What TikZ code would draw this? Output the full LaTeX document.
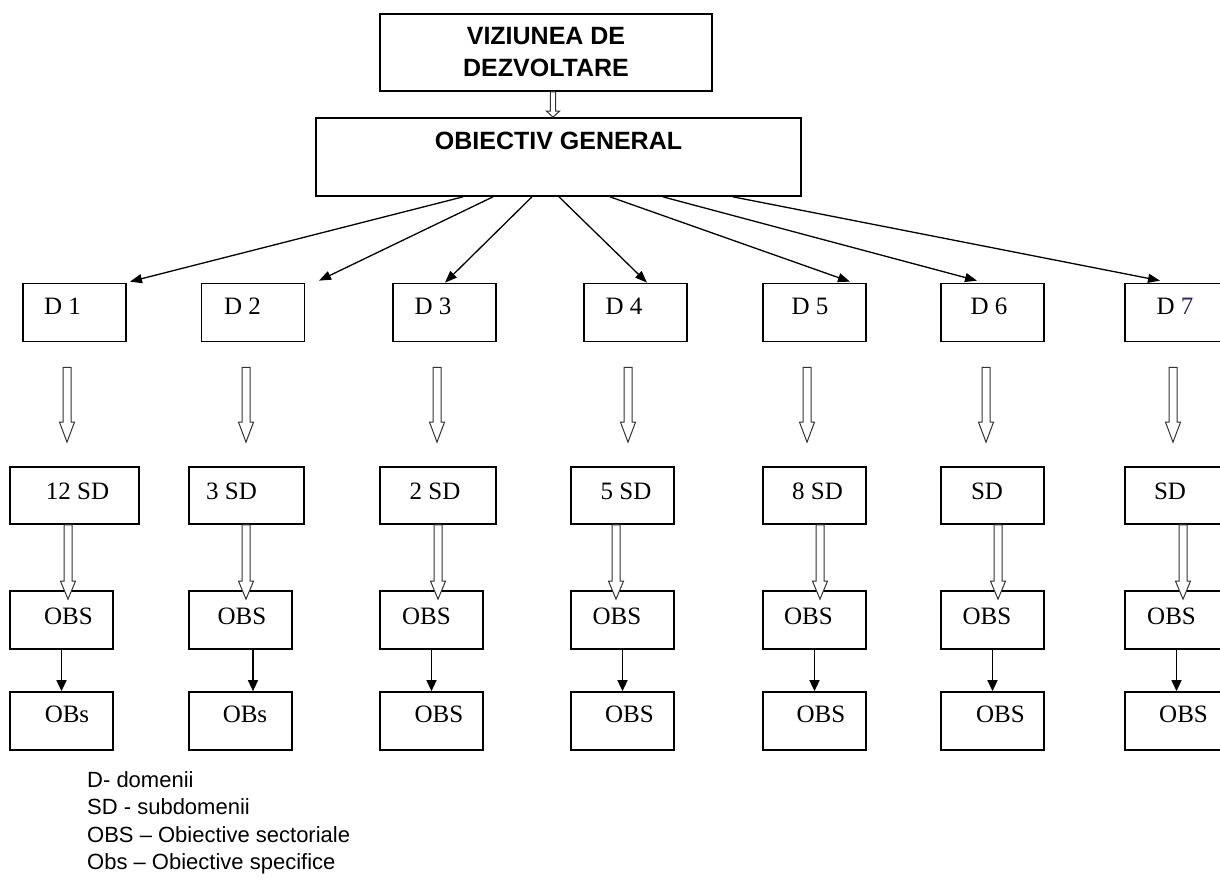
\documentclass[tikz,border=0pt]{standalone}
\usepackage{fontspec}
\setmainfont{Liberation Serif}
\newfontfamily\arialfont{Liberation Sans}
\usetikzlibrary{arrows.meta,calc}

\definecolor{navyseven}{RGB}{45,35,95}

% open (white) block arrow going straight down
\newcommand{\harrow}[5]{%
  \draw[hollow] let \p1=(#1), \p2=(#2) in
    (\x1-#3pt,\y1) -- (\x1-#3pt,\y2+#5pt) -- (\x1-#4pt,\y2+#5pt) -- (\x1,\y2)
    -- (\x1+#4pt,\y2+#5pt) -- (\x1+#3pt,\y2+#5pt) -- (\x1+#3pt,\y1) -- cycle;}

\begin{document}
\begin{tikzpicture}[x=1pt,y=-1pt,
  box/.style={draw, line width=1.7pt, inner sep=0pt, minimum width=103pt,
    minimum height=58pt, font=\fontsize{25}{30}\selectfont, text height=17pt},
  tx/.style={execute at begin node={\hspace*{#1pt}},
    execute at end node={\hspace*{-#1pt}}},
  hollow/.style={draw=black!80, line width=1pt, fill=white},
  darrow/.style={line width=1.3pt, -{Triangle[length=12pt,width=9pt]}},
  sarrow/.style={line width=1.3pt, -{Triangle[length=11pt,width=10pt]}}]
\useasboundingbox (0,0) rectangle (1220,882);
\clip (0,0) rectangle (1220,882);

\node[draw, line width=1.7pt, minimum width=332pt, minimum height=77pt, align=center,
  font=\arialfont\bfseries\fontsize{25}{32}\selectfont] (vis) at (546,52.5)
  {VIZIUNEA DE\\DEZVOLTARE};
\node[draw, line width=1.7pt, minimum width=485pt, minimum height=78pt, inner sep=0pt,
  text height=18pt, text depth=32pt,
  font=\arialfont\bfseries\fontsize{25}{30}\selectfont] (og) at (558.5,157)
  {OBIECTIV GENERAL};

% domenii
\node[box, text depth=12.4pt, tx=-12] (d1) at (74.5,312.5) {D 1};
\node[box, text depth=12.4pt, tx=-10.5] (d2) at (253,312.5) {D 2};
\node[box, text depth=12.4pt, tx=-11.5] (d3) at (444.5,312.5) {D 3};
\node[box, text depth=12.4pt, tx=-11.5] (d4) at (635.5,312.5) {D 4};
\node[box, text depth=12.4pt, tx=-4.5] (d5) at (814.5,312.5) {D 5};
\node[box, text depth=12.4pt, tx=-3.5] (d6) at (992.5,312.5) {D 6};
\node[box, text depth=12.4pt, tx=-1.5] (d7) at (1176.5,312.5) {D \textcolor{navyseven}{7}};

% subdomenii
\node[box, minimum width=129pt, minimum height=57pt, text depth=8.4pt, tx=3] (sd1) at (74.5,495.5) {12 SD};
\node[box, minimum width=115pt, minimum height=57pt, text depth=8.4pt, tx=-15] (sd2) at (246.5,495.5) {3 SD};
\node[box, minimum width=116pt, minimum height=57pt, text depth=8.4pt, tx=-3] (sd3) at (438,495.5) {2 SD};
\node[box, minimum height=57pt, text depth=8.4pt, tx=3.5] (sd4) at (622.5,495.5) {5 SD};
\node[box, minimum height=57pt, text depth=8.4pt, tx=3] (sd5) at (814.5,495.5) {8 SD};
\node[box, minimum height=57pt, text depth=8.4pt, tx=-5.5] (sd6) at (992.5,495.5) {SD};
\node[box, minimum height=57pt, text depth=8.4pt, tx=-6.5] (sd7) at (1176.5,495.5) {SD};

% obiective sectoriale
\node[box, text depth=7.4pt, tx=7] (obs1) at (61.5,620) {OBS};
\node[box, text depth=7.4pt, tx=1.5] (obs2) at (240.5,620) {OBS};
\node[box, text depth=7.4pt, tx=-5] (obs3) at (431.5,620) {OBS};
\node[box, text depth=7.4pt, tx=-5.5] (obs4) at (622.5,620) {OBS};
\node[box, text depth=7.4pt, tx=-6] (obs5) at (814.5,620) {OBS};
\node[box, text depth=7.4pt, tx=-5.5] (obs6) at (992.5,620) {OBS};
\node[box, text depth=7.4pt, tx=-5] (obs7) at (1176.5,620) {OBS};

% obiective specifice
\node[box, text depth=13.4pt, tx=5.5] (obb1) at (61.5,721) {OBs};
\node[box, text depth=13.4pt, tx=4.5] (obb2) at (240.5,721) {OBs};
\node[box, text depth=13.4pt, tx=7.5] (obb3) at (431.5,721) {OBS};
\node[box, text depth=13.4pt, tx=7] (obb4) at (622.5,721) {OBS};
\node[box, text depth=13.4pt, tx=6.5] (obb5) at (814.5,721) {OBS};
\node[box, text depth=13.4pt, tx=8] (obb6) at (992.5,721) {OBS};
\node[box, text depth=13.4pt, tx=7] (obb7) at (1176.5,721) {OBS};

\harrow{[xshift=7pt]vis.south}{og.north}{2.7}{6.5}{6}

\draw[darrow] ([xshift=-95.5pt]og.south) -- ([xshift=55.5pt,yshift=1pt]d1.north);
\draw[darrow] ([xshift=-65.5pt]og.south) -- ([xshift=66pt,yshift=2pt]d2.north);
\draw[darrow] ([xshift=-26.5pt]og.south) -- ([xshift=0.5pt]d3.north);
\draw[darrow] ([xshift=0.5pt]og.south) -- ([xshift=11.5pt]d4.north);
\draw[darrow] ([xshift=51.5pt]og.south) -- ([xshift=35.5pt,yshift=1pt]d5.north);
\draw[darrow] ([xshift=104.5pt]og.south) -- ([xshift=-15.5pt,yshift=2pt]d6.north);
\draw[darrow] ([xshift=174.5pt]og.south) -- ([xshift=-16.5pt,yshift=2pt]d7.north);

\harrow{[xshift=-7.5pt,yshift=-25pt]d1.south}{[yshift=24pt]sd1.north}{4}{7.5}{20}
\harrow{[xshift=-7pt,yshift=-25pt]d2.south}{[yshift=24pt]sd2.north}{4}{7.5}{20}
\harrow{[xshift=-7.5pt,yshift=-25pt]d3.south}{[yshift=24pt]sd3.north}{4}{7.5}{20}
\harrow{[xshift=-7.5pt,yshift=-25pt]d4.south}{[yshift=24pt]sd4.north}{4}{7.5}{20}
\harrow{[xshift=-7.5pt,yshift=-25pt]d5.south}{[yshift=24pt]sd5.north}{4}{7.5}{20}
\harrow{[xshift=-6.5pt,yshift=-25pt]d6.south}{[yshift=24pt]sd6.north}{4}{7.5}{20}
\harrow{[xshift=-3.5pt,yshift=-25pt]d7.south}{[yshift=24pt]sd7.north}{4}{7.5}{20}

\harrow{[xshift=-6.5pt]sd1.south}{[yshift=-9pt]obs1.north}{4}{7.5}{18}
\harrow{[xshift=-0.5pt]sd2.south}{[yshift=-9pt]obs2.north}{4}{7.5}{18}
\harrow{sd3.south}{[yshift=-9pt]obs3.north}{4}{7.5}{18}
\harrow{[xshift=-6.5pt]sd4.south}{[yshift=-9pt]obs4.north}{4}{7.5}{18}
\harrow{[xshift=5.5pt]sd5.south}{[yshift=-9pt]obs5.north}{4}{7.5}{18}
\harrow{[xshift=5.5pt]sd6.south}{[yshift=-9pt]obs6.north}{4}{7.5}{18}
\harrow{[xshift=6.5pt]sd7.south}{[yshift=-9pt]obs7.north}{4}{7.5}{18}

\draw[sarrow] (obs1.south) -- (obb1.north);
\draw[sarrow] ([xshift=12.5pt]obs2.south) -- ([xshift=12.5pt]obb2.north);
\draw[sarrow] (obs3.south) -- (obb3.north);
\draw[sarrow] (obs4.south) -- (obb4.north);
\draw[sarrow] (obs5.south) -- (obb5.north);
\draw[sarrow] (obs6.south) -- (obb6.north);
\draw[sarrow] (obs7.south) -- (obb7.north);

\node[anchor=north west, inner sep=0pt, align=left,
  font=\arialfont\fontsize{22}{27.3}\selectfont] (legend) at (87,771.5)
  {D- domenii\\SD - subdomenii\\OBS – Obiective sectoriale\\Obs – Obiective specifice};
\end{tikzpicture}
\end{document}
